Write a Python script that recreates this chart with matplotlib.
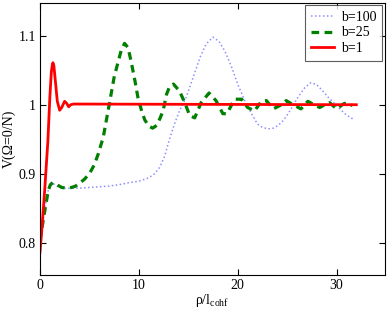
import matplotlib
matplotlib.use("Agg")
import matplotlib.pyplot as plt

plt.rcParams['font.family'] = ['Liberation Serif', 'DejaVu Serif']
plt.rcParams['mathtext.fontset'] = 'custom'
plt.rcParams['mathtext.rm'] = 'Liberation Serif'
plt.rcParams['font.size'] = 10

# b=100 (dotted)
x_b100 = [0, 0.3, 0.6, 0.9, 1.15, 1.5, 2.0, 2.5, 3, 4, 5, 6, 7, 8, 9, 10, 11, 11.6,
          12.1, 12.6, 13.1, 13.6, 14.1, 14.8, 15.5, 16.2, 16.8, 17.5, 18.1, 18.7,
          19.4, 20.0, 20.7, 21.4, 22.0, 22.5, 23.1, 23.6, 24.1, 24.6, 25.1, 25.6,
          26.1, 26.8, 27.4, 28.0, 28.6, 29.2, 29.8, 30.4, 31.0, 31.8]
y_b100 = [0.800, 0.830, 0.860, 0.880, 0.887, 0.884, 0.880, 0.879, 0.879, 0.879,
          0.880, 0.881, 0.882, 0.884, 0.887, 0.889, 0.894, 0.900,
          0.909, 0.925, 0.950, 0.972, 0.991, 1.011, 1.040, 1.069, 1.088, 1.098,
          1.092, 1.078, 1.054, 1.030, 1.006, 0.987, 0.972, 0.967, 0.965, 0.966,
          0.970, 0.977, 0.987, 0.999, 1.011, 1.025, 1.032, 1.029, 1.020, 1.010,
          1.002, 0.993, 0.985, 0.978]

# b=25 (dashed)
x_b25 = [0, 0.3, 0.6, 0.85, 1.05, 1.3, 1.7, 2.2, 2.7, 3.2, 3.6, 4.0, 4.5, 5.0,
         5.5, 5.9, 6.4, 7.0, 7.5, 7.9, 8.2, 8.55, 8.9, 9.2, 9.6, 9.9, 10.3, 10.6,
         11.0, 11.4, 11.8, 12.1, 12.45, 12.8, 13.1, 13.5, 14.1, 14.65, 15.15,
         15.65, 16.3, 17.1, 17.8, 18.5, 18.9, 19.7, 20.4, 21.0, 21.7, 22.4, 22.9,
         23.6, 24.3, 24.9, 25.6, 26.4, 27.1, 27.7, 28.3, 28.8, 29.3, 30.0, 30.8,
         31.6]
y_b25 = [0.803, 0.830, 0.856, 0.876, 0.884, 0.887, 0.884, 0.880, 0.879, 0.880,
         0.882, 0.886, 0.892, 0.900, 0.913, 0.929, 0.953, 1.000, 1.040, 1.062,
         1.078, 1.089, 1.083, 1.064, 1.035, 1.011, 0.990, 0.978, 0.969, 0.966,
         0.970, 0.979, 0.991, 1.015, 1.026, 1.030, 1.020, 1.003, 0.984, 0.981,
         1.003, 1.017, 1.006, 0.987, 0.987, 1.008, 1.008, 0.996, 0.991, 1.005,
         1.006, 0.994, 0.999, 1.006, 1.000, 0.994, 1.005, 1.000, 0.996, 1.000,
         1.003, 0.994, 1.002, 0.999]

# b=1 (solid)
x_b1 = [0, 0.2, 0.47, 0.8, 1.0, 1.15, 1.25, 1.31, 1.4, 1.55, 1.75, 1.99, 2.2,
        2.49, 2.7, 2.9, 3.1, 3.4, 32]
y_b1 = [0.786, 0.822, 0.875, 0.948, 1.012, 1.048, 1.058, 1.061, 1.057, 1.035,
        1.005, 0.992, 0.996, 1.005, 1.002, 0.997, 1.000, 1.001, 1.000]

fig = plt.figure(figsize=(3.91, 3.19), dpi=100)
ax = fig.add_axes([40 / 391, 44 / 319, 344.5 / 391, 272.3 / 319])

ax.plot(x_b100, y_b100, color='#8f8fff', lw=1.1, linestyle=(0, (1, 1.6)), label='b=100')
ax.plot(x_b25, y_b25, color='#007f00', lw=2.3, linestyle=(0, (2.4, 1.7)), label='b=25')
ax.plot(x_b1, y_b1, color='#ff0000', lw=2.0, label='b=1')

ax.set_xlim(0, 34.85)
ax.set_ylim(0.753, 1.148)
ax.set_xticks([0, 10, 20, 30])
ax.set_yticks([0.8, 0.9, 1.0, 1.1])
ax.set_yticklabels(['0.8', '0.9', '1', '1.1'])
ax.tick_params(direction='in', top=True, right=True, length=4, width=0.8,
               labelsize=10, pad=3)
for s in ax.spines.values():
    s.set_linewidth(0.8)

ax.set_xlabel(r'ρ/l$_{\mathrm{cohf}}$', fontsize=10, labelpad=0)
ax.set_ylabel('V(Ω=0/N)', fontsize=10, labelpad=2)

leg = ax.legend(loc='upper right', fancybox=False, fontsize=10, handlelength=1.7,
                borderpad=0.4, labelspacing=0.2, handletextpad=0.5,
                borderaxespad=0.17)
leg.get_frame().set_edgecolor('#333333')
leg.get_frame().set_linewidth(0.8)

fig.savefig('out.png', dpi=100)
